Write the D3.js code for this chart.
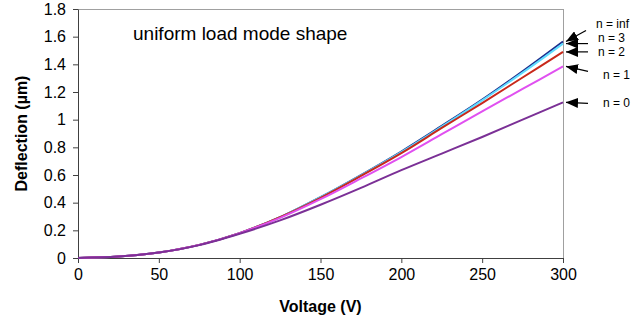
<!DOCTYPE html>
<html>
<head>
<meta charset="utf-8">
<script src="https://cdn.jsdelivr.net/npm/d3@7"></script>
<style>
  body { margin: 0; background: #fff; }
  svg { font-family: "Liberation Sans", Arial, sans-serif; }
  .axis path, .axis line { stroke: #404040; }
  .axis text { font-size: 16px; fill: #000; }
  .axis-label { font-size: 16px; font-weight: bold; }
</style>
</head>
<body>
<script>
// Data
var voltage = [0, 25, 50, 75, 100, 125, 150, 175, 200, 225, 250, 275, 300];
var seriesNames = ["n = inf", "n = 3", "n = 2", "n = 1", "n = 0"];
var deflInf = [0, 0.01, 0.04, 0.095, 0.18, 0.295, 0.44, 0.6, 0.77, 0.955, 1.145, 1.35, 1.565];
var defl3   = [0, 0.01, 0.04, 0.095, 0.18, 0.295, 0.44, 0.598, 0.766, 0.95, 1.14, 1.34, 1.55];
var defl2   = [0, 0.01, 0.04, 0.095, 0.18, 0.295, 0.435, 0.593, 0.758, 0.94, 1.12, 1.305, 1.49];
var defl1   = [0, 0.01, 0.04, 0.095, 0.18, 0.29, 0.425, 0.575, 0.73, 0.895, 1.06, 1.222, 1.385];
var defl0   = [0, 0.01, 0.04, 0.093, 0.175, 0.272, 0.385, 0.507, 0.635, 0.755, 0.875, 1.0, 1.125];
var seriesColors = ["#1c2c8c", "#5fdcff", "#c8281a", "#e050f0", "#7b3096"];

var xTicks = [0, 50, 100, 150, 200, 250, 300];
var yTicks = [0, 0.2, 0.4, 0.6, 0.8, 1, 1.2, 1.4, 1.6, 1.8];
var yTickLabels = ["0", "0.2", "0.4", "0.6", "0.8", "1", "1.2", "1.4", "1.6", "1.8"];

// SVG size
var width = 643, height = 324;
var plot = {left: 78, right: 563, top: 9, bottom: 258};

var svg = d3.select("body").append("svg")
  .attr("width", width)
  .attr("height", height);

var x = d3.scaleLinear().domain([0, 300]).range([plot.left, plot.right]);
var y = d3.scaleLinear().domain([0, 1.8]).range([plot.bottom, plot.top]);

// frame top / right
svg.append("line")
  .attr("x1", plot.left).attr("x2", plot.right)
  .attr("y1", plot.top + 0.5).attr("y2", plot.top + 0.5)
  .attr("stroke", "#a0a0a0");
svg.append("line")
  .attr("x1", plot.right + 0.5).attr("x2", plot.right + 0.5)
  .attr("y1", plot.top).attr("y2", plot.bottom)
  .attr("stroke", "#a0a0a0");

// axes
var xAxis = d3.axisBottom(x).tickValues(xTicks).tickSize(5).tickSizeOuter(0).tickPadding(6);
var yAxis = d3.axisLeft(y).tickValues(yTicks).tickSize(5).tickSizeOuter(0).tickPadding(7)
  .tickFormat(function(d, i) { return yTickLabels[i]; });

svg.append("g")
  .attr("class", "axis x-axis")
  .attr("transform", "translate(0," + plot.bottom + ")")
  .call(xAxis);

svg.append("g")
  .attr("class", "axis y-axis")
  .attr("transform", "translate(" + plot.left + ",0)")
  .call(yAxis);

// series
var series = [deflInf, defl3, defl2, defl1, defl0].map(function(vals, i) {
  return {name: seriesNames[i], color: seriesColors[i],
          values: vals.map(function(v, j) { return {v: voltage[j], d: v}; })};
});

var line = d3.line()
  .x(function(p) { return x(p.v); })
  .y(function(p) { return y(p.d); })
  .curve(d3.curveCatmullRom);

svg.selectAll(".series")
  .data(series)
  .enter()
  .append("path")
  .attr("class", "series")
  .attr("fill", "none")
  .attr("stroke", function(s) { return s.color; })
  .attr("stroke-width", 2)
  .attr("d", function(s) { return line(s.values); });

// axis labels
svg.append("text")
  .attr("class", "axis-label")
  .attr("text-anchor", "middle")
  .attr("x", (plot.left + plot.right) / 2)
  .attr("y", 312)
  .text("Voltage (V)");

svg.append("text")
  .attr("class", "axis-label")
  .attr("text-anchor", "middle")
  .attr("transform", "translate(27," + (plot.top + plot.bottom) / 2 + ") rotate(-90)")
  .text("Deflection (\u00b5m)");

svg.append("text")
  .attr("x", 133)
  .attr("y", 40)
  .style("font-size", "19px")
  .text("uniform load mode shape");

// arrow annotations
var defs = svg.append("defs");
defs.append("marker")
  .attr("id", "head")
  .attr("markerUnits", "userSpaceOnUse")
  .attr("viewBox", "0 0 12 10")
  .attr("refX", 12).attr("refY", 5)
  .attr("markerWidth", 12).attr("markerHeight", 10)
  .attr("orient", "auto")
  .append("path")
  .attr("d", "M0,0 L12,5 L0,10 Z")
  .attr("fill", "#000");

// tail offset and label placement, relative to the series end point
var notes = [
  {tail: [20, -11], label: [30, -18]},
  {tail: [22, 0],   label: [32, -6]},
  {tail: [22, 0],   label: [32, 0]},
  {tail: [22, 5],   label: [37, 8]},
  {tail: [22, 1],   label: [37, 0]}
];

series.forEach(function(s, i) {
  var end = s.values[s.values.length - 1];
  var tx = x(end.v) + 3, ty = y(end.d);
  svg.append("line")
    .attr("x1", tx + notes[i].tail[0]).attr("y1", ty + notes[i].tail[1])
    .attr("x2", tx).attr("y2", ty)
    .attr("stroke", "#000")
    .attr("stroke-width", 1.2)
    .attr("marker-end", "url(#head)");
  svg.append("text")
    .attr("x", tx + notes[i].label[0])
    .attr("y", ty + notes[i].label[1])
    .attr("dy", "0.35em")
    .style("font-size", "12px")
    .text(s.name);
});
</script>
</body>
</html>
